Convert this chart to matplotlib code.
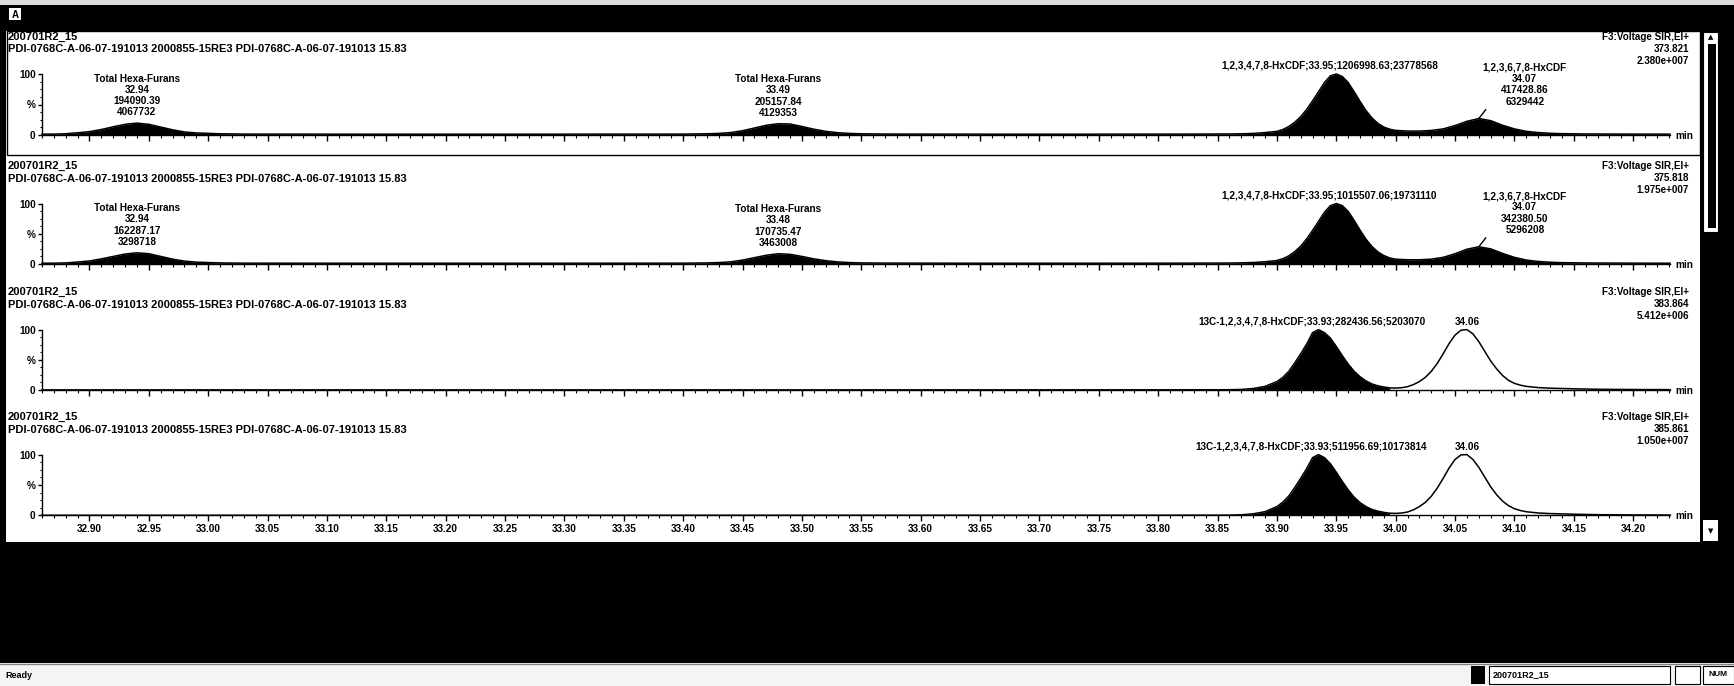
import numpy as np
import matplotlib
matplotlib.use("Agg")
import matplotlib.pyplot as plt
from matplotlib.patches import Rectangle
from matplotlib.ticker import FixedLocator, MultipleLocator

plt.rcParams['font.family'] = ['Liberation Sans', 'DejaVu Sans']
plt.rcParams['font.weight'] = 'bold'

# ---------------- data ----------------
sample_name = "200701R2_15"
sample_desc = "PDI-0768C-A-06-07-191013 2000855-15RE3 PDI-0768C-A-06-07-191013 15.83"
function_label = "F3:Voltage SIR,EI+"
masses = ["373.821", "375.818", "383.864", "385.861"]
max_intensity = ["2.380e+007", "1.975e+007", "5.412e+006", "1.050e+007"]

x_tick_labels = ["32.90", "32.95", "33.00", "33.05", "33.10", "33.15", "33.20", "33.25",
                 "33.30", "33.35", "33.40", "33.45", "33.50", "33.55", "33.60", "33.65",
                 "33.70", "33.75", "33.80", "33.85", "33.90", "33.95", "34.00", "34.05",
                 "34.10", "34.15", "34.20"]
x_range = [32.86, 34.231]

# retention times (min) for native HxCDF channels
rt_native = [32.860, 32.870, 32.880, 32.885, 32.890, 32.900, 32.910, 32.920, 32.930, 32.940,
             32.950, 32.960, 32.970, 32.980, 32.990, 33.000, 33.010, 33.030, 33.100, 33.200,
             33.300, 33.400, 33.420, 33.430, 33.440, 33.450, 33.460, 33.470, 33.480, 33.490,
             33.500, 33.510, 33.520, 33.530, 33.540, 33.550, 33.570, 33.650, 33.750, 33.820,
             33.860, 33.870, 33.880, 33.890, 33.900, 33.905, 33.910, 33.915, 33.920, 33.925,
             33.930, 33.935, 33.940, 33.945, 33.950, 33.955, 33.960, 33.965, 33.970, 33.975,
             33.980, 33.985, 33.990, 33.995, 34.000, 34.010, 34.020, 34.030, 34.040, 34.050,
             34.060, 34.070, 34.080, 34.090, 34.100, 34.110, 34.120, 34.130, 34.140, 34.160,
             34.200, 34.231]
# relative intensity (%) m/z 373.821
int_373 = [1.4, 1.5, 2.0, 2.9, 3.6, 5.5, 9.0, 13.5, 17.5, 19.5,
           17.5, 13.0, 8.5, 5.0, 3.4, 2.7, 2.0, 1.5, 1.4, 1.4,
           1.4, 1.5, 2.0, 2.6, 4.0, 7.0, 11.5, 16.0, 18.5, 18.0,
           14.0, 9.5, 6.0, 3.8, 2.6, 2.0, 1.6, 1.4, 1.4, 1.5,
           1.7, 2.0, 2.6, 4.0, 6.0, 9.0, 14.0, 21.0, 30.0, 42.0,
           56.0, 71.0, 86.0, 97.0, 100.0, 96.0, 86.0, 71.0, 55.0, 40.0,
           28.0, 19.0, 13.0, 9.5, 7.5, 6.5, 6.5, 7.5, 10.0, 15.5,
           22.5, 27.0, 23.5, 16.0, 10.0, 6.0, 4.0, 2.8, 2.2, 1.7,
           1.5, 1.4]
# relative intensity (%) m/z 375.818
int_375 = [1.3, 1.4, 1.8, 2.5, 3.3, 5.0, 8.5, 12.5, 16.5, 18.5,
           17.0, 12.5, 8.0, 4.8, 3.1, 2.4, 1.8, 1.4, 1.3, 1.3,
           1.3, 1.4, 1.8, 2.4, 3.6, 6.5, 10.5, 14.5, 17.0, 16.0,
           12.5, 8.5, 5.5, 3.5, 2.4, 1.8, 1.5, 1.3, 1.3, 1.4,
           1.6, 1.9, 2.5, 3.8, 5.8, 8.8, 13.5, 20.5, 29.5, 41.5,
           55.5, 70.5, 85.5, 96.5, 100.0, 96.5, 87.0, 72.0, 56.0, 41.0,
           29.0, 20.0, 14.0, 10.0, 8.0, 7.0, 7.0, 8.0, 11.0, 17.0,
           24.5, 28.5, 25.0, 17.5, 11.0, 6.5, 4.2, 3.0, 2.2, 1.7,
           1.4, 1.3]

# retention times (min) for 13C-labelled channels
rt_labelled = [32.860, 33.200, 33.500, 33.800, 33.850, 33.860, 33.870, 33.880, 33.890, 33.900,
               33.905, 33.910, 33.915, 33.920, 33.925, 33.930, 33.935, 33.940, 33.945, 33.950,
               33.955, 33.960, 33.965, 33.970, 33.975, 33.980, 33.985, 33.990, 33.995, 34.000,
               34.005, 34.010, 34.015, 34.020, 34.025, 34.030, 34.035, 34.040, 34.045, 34.050,
               34.055, 34.060, 34.065, 34.070, 34.075, 34.080, 34.085, 34.090, 34.095, 34.100,
               34.105, 34.110, 34.120, 34.130, 34.150, 34.170, 34.200, 34.231]
int_383 = [0.2, 0.2, 0.2, 0.3, 0.4, 0.5, 0.9, 2.5, 6.0, 14.0,
           21.0, 31.0, 45.0, 60.0, 76.0, 95.0, 100.0, 95.0, 86.0, 72.0,
           57.0, 43.0, 31.0, 22.0, 15.0, 10.0, 7.0, 5.0, 3.5, 3.2,
           3.8, 5.5, 9.0, 14.0, 21.0, 31.0, 44.0, 60.0, 77.0, 91.0,
           99.0, 100.0, 93.0, 80.0, 64.0, 48.0, 35.0, 24.0, 16.0, 11.0,
           8.0, 6.0, 4.0, 3.0, 2.0, 1.2, 0.8, 0.6]
int_385 = [0.2, 0.2, 0.2, 0.3, 0.4, 0.5, 1.0, 2.6, 6.2, 14.5,
           22.0, 32.0, 46.0, 61.0, 77.0, 95.0, 100.0, 95.0, 85.0, 71.0,
           56.0, 42.0, 30.0, 21.0, 14.5, 9.8, 7.0, 5.0, 3.6, 3.3,
           3.9, 5.6, 9.2, 14.5, 21.5, 31.5, 45.0, 61.0, 78.0, 92.0,
           99.5, 100.0, 92.0, 79.0, 63.0, 47.0, 34.0, 23.5, 16.0, 11.0,
           8.0, 6.0, 4.0, 3.0, 2.0, 1.2, 0.8, 0.6]

# integrated (filled) region end, None = whole trace
integration_end = [None, None, 33.995, 33.995]

# peak labels: (retention time, text)
labels_373 = [(32.94, "Total Hexa-Furans\n32.94\n194090.39\n4067732"),
              (33.485, "Total Hexa-Furans\n33.49\n205157.84\n4129353"),
              (33.95, "1,2,3,4,7,8-HxCDF;33.95;1206998.63;23778568"),
              (34.07, "1,2,3,6,7,8-HxCDF\n34.07\n417428.86\n6329442")]
labels_375 = [(32.94, "Total Hexa-Furans\n32.94\n162287.17\n3298718"),
              (33.48, "Total Hexa-Furans\n33.48\n170735.47\n3463008"),
              (33.95, "1,2,3,4,7,8-HxCDF;33.95;1015507.06;19731110"),
              (34.07, "1,2,3,6,7,8-HxCDF\n34.07\n342380.50\n5296208")]
labels_383 = [(33.935, "13C-1,2,3,4,7,8-HxCDF;33.93;282436.56;5203070"),
              (34.06, "34.06")]
labels_385 = [(33.935, "13C-1,2,3,4,7,8-HxCDF;33.93;511956.69;10173814"),
              (34.06, "34.06")]

traces = [(rt_native, int_373, labels_373),
          (rt_native, int_375, labels_375),
          (rt_labelled, int_383, labels_383),
          (rt_labelled, int_385, labels_385)]

# ---------------- layout (pixels) ----------------
W, H = 1734, 686
FS = 7.2       # annotations / ticks
FS_HEAD = 8.0  # panel header
FS_RIGHT = 7.1  # channel info
fig = plt.figure(figsize=(W / 100, H / 100), dpi=100)
bg = fig.add_axes([0, 0, 1, 1])
bg.set_xlim(0, W)
bg.set_ylim(H, 0)
bg.axis('off')


def rect(x0, y0, x1, y1, fc, ec='none', lw=0, z=0):
    bg.add_patch(Rectangle((x0, y0), x1 - x0, y1 - y0, facecolor=fc,
                           edgecolor=ec, linewidth=lw, zorder=z))


rect(0, 0, W, H, 'white')
rect(0, 0, W, 5, '#dcdcdc')
rect(0, 5, W, 31, 'black')
rect(9, 8, 21, 20, 'white', z=2)
bg.text(15, 14.5, "A", ha='center', va='center', fontsize=7, zorder=3)
rect(0, 5, 6, 663, 'black')
rect(1700, 31, W, 663, 'black')
rect(0, 542, W, 663, 'black')
rect(0, 663, W, H, '#f4f4f4')
bg.plot([0, W], [663.5, 663.5], color='#808080', lw=1)
bg.text(5, 675, "Ready", ha='left', va='center', fontsize=6.5)
rect(1471, 666, 1485, 684, 'black', z=2)
rect(1489, 666, 1670, 684, 'white', ec='black', lw=0.8, z=2)
bg.text(1493, 675, sample_name, ha='left', va='center', fontsize=6.5, zorder=3)
rect(1675, 666, 1700, 684, 'white', ec='black', lw=0.8, z=2)
rect(1703, 666, 1734, 684, 'white', ec='black', lw=0.8, z=2)
bg.text(1718, 675, "NUM", ha='center', va='center', fontsize=6, zorder=3)

# scrollbar
rect(1703, 32, 1718, 232, 'white', ec='black', lw=0.8, z=2)
rect(1708, 44, 1716, 228, 'black', z=3)
bg.text(1710.5, 37.5, "\u25b2", ha='center', va='center', fontsize=5, family='DejaVu Sans', zorder=3)
rect(1703, 520, 1718, 541, 'white', z=2)
bg.text(1710.5, 531, "\u25bc", ha='center', va='center', fontsize=5, family='DejaVu Sans', zorder=3)

# selected panel frame
rect(7, 31, 1700, 155, 'none', ec='black', lw=1, z=1)

panel_rows = [(74, 135), (203.5, 264), (329.6, 390), (454.6, 515.4)]
ax_left, ax_right = 42, 1670

for i, ((rt, vals, labels), (top_y, zero_y)) in enumerate(zip(traces, panel_rows)):
    ax = fig.add_axes([ax_left / W, 1 - zero_y / H, (ax_right - ax_left) / W,
                       (zero_y - top_y) / H])
    ax.patch.set_alpha(0)
    ax.set_xlim(*x_range)
    ax.set_ylim(0, 100)
    rt_a = np.array(rt)
    v_a = np.array(vals)
    end = integration_end[i]
    if end is None:
        ax.fill_between(rt_a, v_a, 0, color='black', lw=0)
    else:
        m = rt_a <= end + 1e-9
        ax.fill_between(rt_a[m], v_a[m], 0, color='black', lw=0)
    ax.plot(rt_a, v_a, color='black', lw=1.1, clip_on=False)

    for s in ['top', 'right']:
        ax.spines[s].set_visible(False)
    for s in ['left', 'bottom']:
        ax.spines[s].set_linewidth(1.0)
    ax.xaxis.set_major_locator(FixedLocator([float(t) for t in x_tick_labels]))
    ax.xaxis.set_minor_locator(MultipleLocator(0.01))
    ax.set_xticklabels(x_tick_labels)
    ax.tick_params(axis='x', which='major', length=4, width=1, direction='out',
                   labelsize=FS, pad=2.5, labelbottom=(i == 3))
    ax.tick_params(axis='x', which='minor', length=2.2, width=0.8, direction='out')
    ax.set_yticks([0, 50, 100])
    ax.set_yticklabels(['0', '%', '100'])
    ax.yaxis.set_minor_locator(MultipleLocator(12.5))
    ax.tick_params(axis='y', which='major', length=3, width=1, labelsize=FS, pad=1.5)
    ax.tick_params(axis='y', which='minor', length=1.8, width=0.8)

    # peak labels
    for j, (t, txt) in enumerate(labels):
        w = np.abs(rt_a - t) <= 0.012
        k = np.argmax(np.where(w, v_a, -1))
        apex = (rt_a[k], v_a[k])
        if txt.startswith("1,2,3,6"):
            dx, dy = 46, 12
            ax.annotate('', xy=apex, xytext=(7, 9), textcoords='offset pixels',
                        arrowprops=dict(arrowstyle='-', lw=1, color='black', shrinkA=0, shrinkB=0))
        elif txt.startswith("Total"):
            dx, dy = 0, 6
        elif "HxCDF" in txt:
            dx, dy = -7, 3
        else:
            dx, dy = 0, 3
        ax.annotate(txt, xy=apex, xytext=(dx, dy), textcoords='offset pixels',
                    ha='center', va='bottom', fontsize=FS, linespacing=1.15,
                    annotation_clip=False)

    # header texts
    bg.text(8, zero_y - 98, sample_name, ha='left', va='center', fontsize=FS_HEAD)
    bg.text(8, zero_y - 85.5, sample_desc, ha='left', va='center', fontsize=FS_HEAD)
    bg.text(1689, zero_y - 98, function_label, ha='right', va='center', fontsize=FS_RIGHT)
    bg.text(1689, zero_y - 86, masses[i], ha='right', va='center', fontsize=FS_RIGHT)
    bg.text(1689, zero_y - 74, max_intensity[i], ha='right', va='center', fontsize=FS_RIGHT)
    bg.text(ax_right + 5, zero_y + 1, "min", ha='left', va='center', fontsize=FS)

fig.savefig("out.png", dpi=100)
